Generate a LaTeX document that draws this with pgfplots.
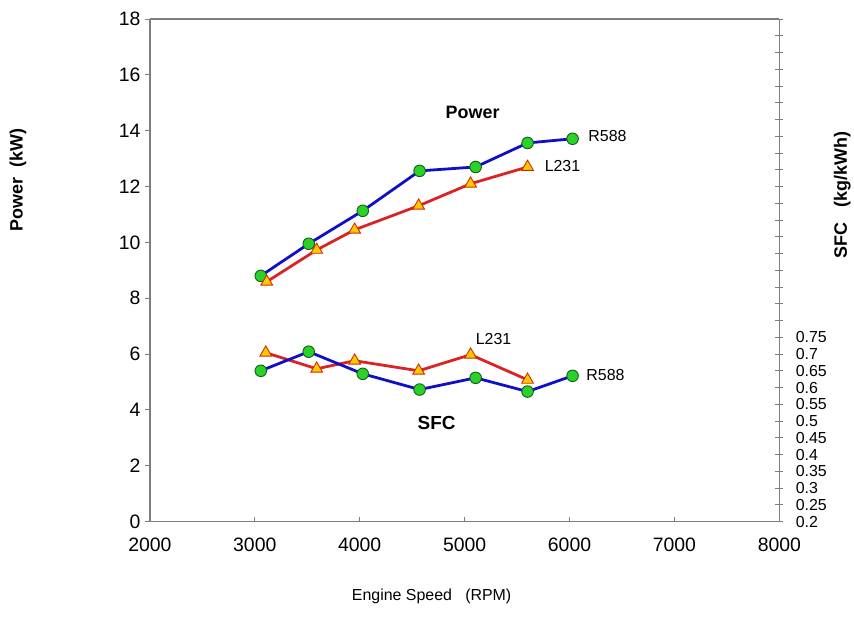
\documentclass[border=0pt]{standalone}
\usepackage{pgfplots}
\pgfplotsset{compat=1.18}
\usepackage{fontspec}
\setmainfont{Liberation Sans}
\definecolor{frame}{RGB}{125,125,125}
\definecolor{bl}{RGB}{15,15,200}
\definecolor{rd}{RGB}{220,35,35}
\definecolor{gf}{RGB}{40,210,40}
\definecolor{ge}{RGB}{25,90,25}
\definecolor{yf}{RGB}{255,200,0}
\definecolor{ye}{RGB}{205,45,0}
\begin{document}
\begin{tikzpicture}
\begin{axis}[
  scale only axis, width=630bp, height=503bp,
  xmin=2000, xmax=8000, ymin=0, ymax=18,
  xtick={2000,3000,...,8000}, ytick={0,2,...,18},
  xtick pos=bottom, ytick pos=left,
  x tick style={draw=frame, line width=0.8pt}, y tick style={draw=frame, line width=0.8pt},
  xtick align=inside, ytick align=outside,
  major tick length=5bp,
  axis line style={draw=frame, line width=1.3pt},
  separate axis lines,
  axis x line*=bottom, axis y line*=left,
  /pgf/number format/assume math mode=true,
  /pgf/number format/1000 sep={},
  tick label style={font=\fontsize{19.5}{21}\selectfont},
  xticklabel style={yshift=-13bp},
  yticklabel style={xshift=-1bp},
  clip=false,
]
\draw[frame, line width=1.3pt] (rel axis cs:0,1) -- (rel axis cs:1,1);
\addplot[bl, line width=2.8pt, mark=*, mark size=5.8bp, mark options={fill=gf, draw=ge, line width=0.9pt}] coordinates {
(3057,8.80) (3514,9.95) (4029,11.13) (4571,12.56) (5105,12.70) (5600,13.56) (6029,13.71)};
\addplot[rd, line width=2.8pt, mark=triangle*, mark size=6.8bp, mark options={fill=yf, draw=ye, line width=0.9pt}] coordinates {
(3114,8.59) (3590,9.73) (3952,10.45) (4562,11.31) (5057,12.10) (5600,12.70)};
\node[font=\bfseries\fontsize{18}{20}\selectfont] at (axis cs:5076,14.64) {Power};
\node[font=\fontsize{16}{18}\selectfont] at (axis cs:6362,13.82) {R588};
\node[font=\fontsize{16}{18}\selectfont] at (axis cs:5933,12.74) {L231};
\node[font=\fontsize{16}{18}\selectfont] at (axis cs:5276,6.55) {L231};
\node[font=\fontsize{16}{18}\selectfont] at (axis cs:6343,5.26) {R588};
\node[font=\bfseries\fontsize{19}{21}\selectfont] at (axis cs:4733,3.54) {SFC};
\node[font=\bfseries\fontsize{18}{20}\selectfont, rotate=90] at (rel axis cs:-0.2095,0.680) {Power\ \ (kW)};
\node[font=\bfseries\fontsize{18}{20}\selectfont, rotate=90] at (rel axis cs:1.100,0.650) {SFC\ \ \ (kg/kWh)};
\node[font=\fontsize{16}{18}\selectfont] at (rel axis cs:0.4476,-0.149) {Engine Speed\ \ \ (RPM)};
\path (rel axis cs:-0.2381,-0.2247) rectangle (rel axis cs:1.1175,1.0378);
\end{axis}
\begin{axis}[
  scale only axis, width=630bp, height=503bp,
  xmin=2000, xmax=8000, ymin=0.2, ymax=1.7,
  axis x line=none, axis y line*=right,
  axis line style={draw=frame, line width=1.3pt},
  ytick={0.2,0.25,0.3,0.35,0.4,0.45,0.5,0.55,0.6,0.65,0.7,0.75},
  yticklabels={0.2,0.25,0.3,0.35,0.4,0.45,0.5,0.55,0.6,0.65,0.7,0.75},
  extra y ticks={0.8,0.85,0.9,0.95,1.0,1.05,1.1,1.15,1.2,1.25,1.3,1.35,1.4,1.45,1.5,1.55,1.6,1.65,1.7},
  extra y tick labels={},
  extra y tick style={tick align=center},
  ytick align=center,
  major tick length=8bp,
  y tick style={draw=frame, line width=0.8pt},
  yticklabel style={font=\fontsize{16}{17}\selectfont, xshift=9bp},
  clip=false,
]
\addplot[rd, line width=2.8pt, mark=triangle*, mark size=6.8bp, mark options={fill=yf, draw=ye, line width=0.9pt}] coordinates {
(3105,0.704) (3590,0.656) (3952,0.680) (4562,0.650) (5057,0.698) (5600,0.623)};
\addplot[bl, line width=2.8pt, mark=*, mark size=5.8bp, mark options={fill=gf, draw=ge, line width=0.9pt}] coordinates {
(3057,0.650) (3514,0.707) (4029,0.641) (4571,0.594) (5105,0.629) (5600,0.588) (6029,0.635)};
\end{axis}
\end{tikzpicture}
\end{document}
